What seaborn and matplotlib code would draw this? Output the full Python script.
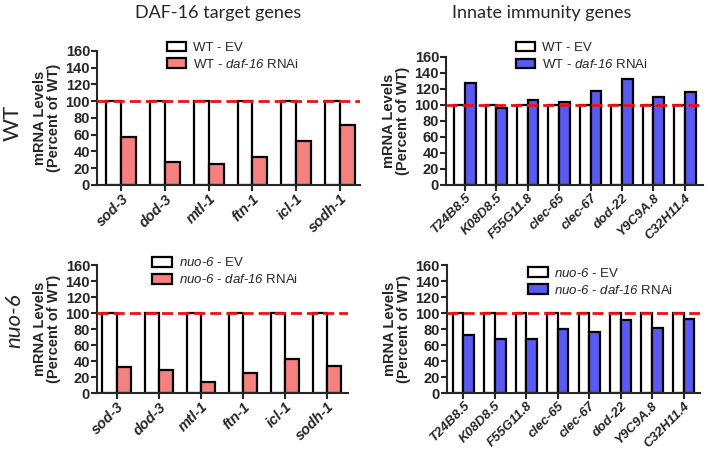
import numpy as np
import pandas as pd
import matplotlib
matplotlib.use("Agg")
import matplotlib.pyplot as plt
import seaborn as sns

# data
daf16_genes = ["sod-3", "dod-3", "mtl-1", "ftn-1", "icl-1", "sodh-1"]
immune_genes = ["T24B8.5", "K08D8.5", "F55G11.8", "clec-65", "clec-67", "dod-22", "Y9C9A.8", "C32H11.4"]

wt_ev_daf16 = [100, 100, 100, 100, 100, 100]
wt_rnai_daf16 = [57, 27, 25, 33, 52, 72]
wt_ev_immune = [100, 100, 100, 100, 100, 100, 100, 100]
wt_rnai_immune = [127.5, 96, 106, 103.5, 117, 132, 110, 115.5]

nuo_ev_daf16 = [100, 100, 100, 100, 100, 100]
nuo_rnai_daf16 = [32.5, 29, 14, 25, 43, 34]
nuo_ev_immune = [100, 100, 100, 100, 100, 100, 100, 100]
nuo_rnai_immune = [73, 68, 67, 80, 76, 92, 81, 92.5]

wt_labels = ["WT - EV", "WT - $daf$-$16$ RNAi"]
nuo_labels = ["$nuo$-$6$ - EV", "$nuo$-$6$ - $daf$-$16$ RNAi"]

RED = "#F58080"
BLUE = "#5A5AF2"

sns.set_style("ticks")
plt.rcParams["font.family"] = ["Liberation Sans", "DejaVu Sans"]
# every math chunk in the legends is italic, digits included
plt.rcParams["mathtext.fontset"] = "custom"
plt.rcParams["mathtext.it"] = "Liberation Sans:italic"
plt.rcParams["mathtext.rm"] = "Liberation Sans:italic"
plt.rcParams["mathtext.default"] = "it"


def make_df(genes, ev, rnai, labels):
    return pd.DataFrame({
        "gene": genes * 2,
        "value": list(ev) + list(rnai),
        "group": [labels[0]] * len(genes) + [labels[1]] * len(genes),
    })


def draw_panel(ax, genes, ev, rnai, labels, color, xlim, legend_pos, xfs):
    df = make_df(genes, ev, rnai, labels)
    sns.barplot(data=df, x="gene", y="value", hue="group",
                palette=["white", color], saturation=1, edgecolor="black", linewidth=1.6,
                width=0.68, gap=0, ax=ax, legend=True)
    ax.axhline(100, color="#EE1111", linestyle=(0, (4, 1.8)), linewidth=2, zorder=5)
    ax.set_ylim(0, 160)
    ax.set_yticks(np.arange(0, 161, 20))
    ax.set_xlim(*xlim)
    ax.set_xlabel("")
    ax.set_ylabel("mRNA Levels\n(Percent of WT)", fontsize=10.5, fontweight="bold", linespacing=1.0, labelpad=3)
    for s in ["left", "bottom"]:
        ax.spines[s].set_linewidth(1.5)
    sns.despine(ax=ax)
    ax.tick_params(axis="both", width=1.5, length=4, pad=1)
    for t in ax.get_yticklabels():
        t.set_fontsize(10.5)
        t.set_fontweight("bold")
    ax.set_xticks(range(len(genes)))
    ax.set_xticklabels(genes, rotation=45, ha="right", rotation_mode="anchor",
                       fontsize=xfs, fontweight="bold", fontstyle="italic")
    leg = ax.legend(loc="upper left", bbox_to_anchor=legend_pos, frameon=False,
                    fontsize=9.5, handlelength=1.5, handleheight=0.75,
                    labelspacing=0.3, handletextpad=0.5, borderaxespad=0)
    for h in leg.get_patches():
        h.set_linewidth(1.6)
        h.set_edgecolor("black")


fig = plt.figure(figsize=(7.08, 4.51), dpi=100)
ax1 = fig.add_axes([0.137, 0.590, 0.371, 0.297])
ax2 = fig.add_axes([0.630, 0.590, 0.363, 0.284])
ax3 = fig.add_axes([0.137, 0.1286, 0.3545, 0.2834])
ax4 = fig.add_axes([0.631, 0.1286, 0.358, 0.2834])

draw_panel(ax1, daf16_genes, wt_ev_daf16, wt_rnai_daf16, wt_labels, RED, (-0.55, 5.45), (0.245, 1.11), 10.5)
draw_panel(ax2, immune_genes, wt_ev_immune, wt_rnai_immune, wt_labels, BLUE, (-0.6, 7.58), (0.25, 1.16), 9.5)
draw_panel(ax3, daf16_genes, nuo_ev_daf16, nuo_rnai_daf16, nuo_labels, RED, (-0.47, 5.5), (0.2, 1.11), 10.5)
draw_panel(ax4, immune_genes, nuo_ev_immune, nuo_rnai_immune, nuo_labels, BLUE, (-0.53, 7.53), (0.3, 1.03), 9.5)

fig.text(0.308, 0.972, "DAF-16 target genes", ha="center", va="center", fontsize=13, family="Lato")
fig.text(0.765, 0.972, "Innate immunity genes", ha="center", va="center", fontsize=13, family="Lato")
fig.text(0.018, 0.727, "WT", ha="center", va="center", rotation=90, fontsize=16, family="Lato")
fig.text(0.02, 0.29, "nuo-6", ha="center", va="center", rotation=90, fontsize=16, family="Lato", style="italic")

fig.savefig("out.png", dpi=100)
